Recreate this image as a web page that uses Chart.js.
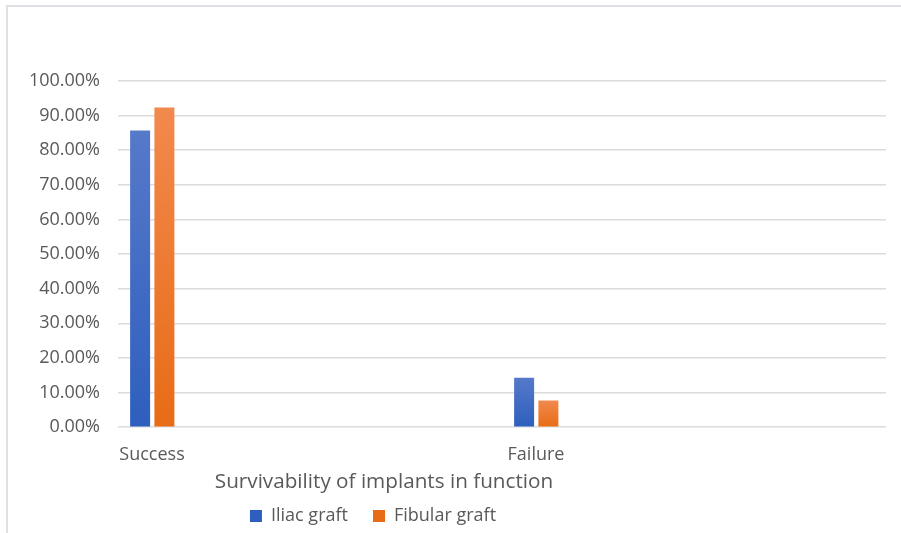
<!DOCTYPE html>
<html>
<head>
<meta charset="utf-8">
<title>Survivability of implants in function</title>
<script src="https://cdn.jsdelivr.net/npm/chart.js@4.4.1/dist/chart.umd.min.js"></script>
<style>
  html, body { margin: 0; padding: 0; background: #ffffff; overflow: hidden; }
  #frame {
    position: absolute; left: 6px; top: 5px; width: 1000px; height: 1000px;
    border-top: 2px solid #dde1e6; border-left: 2px solid #dde1e6;
  }
  #wrap { position: absolute; left: 0; top: 0; width: 901px; height: 533px; }
</style>
</head>
<body>
<div id="frame"></div>
<div id="wrap"><canvas id="chart" width="901" height="533"></canvas></div>
<script>
// ---- data ----
const categories = ['Success', 'Failure'];
const seriesNames = ['Iliac graft', 'Fibular graft'];
const iliacGraft = [85.71, 14.29];     // percent
const fibularGraft = [92.31, 7.69];    // percent
const yTickStep = 10;
const yMax = 100;
const axisCaption = 'Survivability of implants in function';

// ---- styling ----
const TEXT = '#595959';
const FONT = '"Open Sans", "Noto Sans", sans-serif';
const GRID = '#dcdcdc';
const SERIES_SLOTS = 15;          // each category reserves room for this many series
const CAPTION_CENTER = { x: 384, y: 482 };
const LEGEND_CENTER = { x: 373, y: 516 };

// vertical gradient per bar, solid colour for the legend swatch
function barFill(top, bottom, solid) {
  return (ctx) => {
    if (ctx.type !== 'data' || ctx.raw == null) return solid;
    const y = ctx.chart.scales.y;
    if (!y) return solid;
    const y0 = y.getPixelForValue(ctx.raw);
    const y1 = y.getPixelForValue(0);
    if (!isFinite(y0) || !isFinite(y1) || Math.abs(y1 - y0) < 1) return solid;
    const g = ctx.chart.ctx.createLinearGradient(0, y0, 0, y1);
    g.addColorStop(0, top);
    g.addColorStop(1, bottom);
    return g;
  };
}

const datasets = [
  {
    label: seriesNames[0],
    data: iliacGraft,
    backgroundColor: barFill('#5679c9', '#2e5fbe', '#4472c4'),
    borderWidth: 0
  },
  {
    label: seriesNames[1],
    data: fibularGraft,
    backgroundColor: barFill('#f2894d', '#e86c16', '#ed7d31'),
    borderWidth: 0
  }
];
// empty series keep their slots so each pair sits at the start of its category
for (let i = datasets.length; i < SERIES_SLOTS; i++) {
  datasets.push({ label: '', data: categories.map(() => null), backgroundColor: 'rgba(0,0,0,0)' });
}

// centres the caption and legend under the left part of the plot
const captionPlacement = {
  id: 'captionPlacement',
  afterLayout(chart) {
    const t = chart.titleBlock;
    if (t) {
      const w = t.right - t.left, h = t.bottom - t.top;
      const lh = chart.options.plugins.title.font.size * 1.2;
      t.left = CAPTION_CENTER.x - w / 2; t.right = t.left + w;
      t.top = CAPTION_CENTER.y - lh / 2; t.bottom = t.top + h;
    }
    const l = chart.legend;
    if (l) {
      const w = l.right - l.left;
      const lab = chart.options.plugins.legend.labels;
      l.left = LEGEND_CENTER.x - w / 2; l.right = l.left + w;
      l.top = LEGEND_CENTER.y - lab.padding - lab.font.size / 2;
      l.bottom = chart.height;
      l.height = l.bottom - l.top;
    }
  }
};

new Chart(document.getElementById('chart'), {
  type: 'bar',
  data: { labels: categories, datasets },
  plugins: [captionPlacement],
  options: {
    responsive: false,
    animation: false,
    layout: { padding: { left: 10, right: 15, top: 81, bottom: 0 } },
    datasets: {
      bar: { categoryPercentage: 0.948, barPercentage: 0.824 }
    },
    scales: {
      x: {
        grid: { display: false, drawTicks: false },
        border: { display: false },
        ticks: {
          color: TEXT,
          font: { family: FONT, size: 18 },
          padding: 17,
          labelOffset: -158,
          maxRotation: 0
        },
        afterFit: (s) => { s.height = 40; }
      },
      y: {
        min: 0,
        max: yMax,
        grid: { color: GRID, lineWidth: 1.5, drawTicks: false },
        border: { display: false },
        ticks: {
          stepSize: yTickStep,
          color: TEXT,
          font: { family: FONT, size: 18 },
          padding: 18,
          callback: (v) => Number(v).toFixed(2) + '%'
        },
        afterFit: (s) => { s.width = 108; }
      }
    },
    plugins: {
      tooltip: { enabled: false },
      title: {
        display: true,
        text: axisCaption,
        position: 'bottom',
        weight: 500,
        color: TEXT,
        font: { family: FONT, size: 20.7, weight: 'normal' },
        padding: 0
      },
      legend: {
        display: true,
        position: 'bottom',
        maxHeight: 41,
        labels: {
          color: TEXT,
          font: { family: FONT, size: 18 },
          boxWidth: 12,
          boxHeight: 12,
          padding: 25,
          filter: (item) => item.text !== ''
        }
      }
    }
  }
});
</script>
</body>
</html>
